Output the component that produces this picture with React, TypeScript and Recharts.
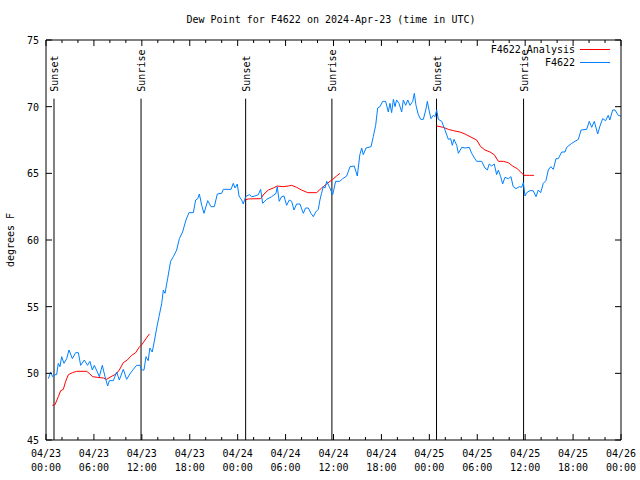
import React from "react";
import {
  LineChart,
  Line,
  XAxis,
  YAxis,
  ReferenceLine,
  Legend,
  Customized,
} from "recharts";

// ---- data ----
const titleText = "Dew Point for F4622 on 2024-Apr-23 (time in UTC)";
const yLabelText = "degrees F";
const seriesNames = ["F4622 Analysis", "F4622"];

// hours since 2024-04-23 00:00 UTC
const dewHours = [
  0.29, 0.58, 0.83, 1.13, 1.33, 1.54, 1.75, 1.96, 2.25, 2.59, 2.88, 3.3, 3.71, 4.05, 4.34, 4.8, 5.2, 5.5, 5.8, 6.05,
  6.43, 6.68, 7.05, 7.39, 7.72, 7.93, 8.43, 8.85, 9.18, 9.68, 10.1, 10.5, 10.93, 11.35, 11.77, 11.98, 12.27, 12.52,
  12.8, 13.0, 13.3, 13.5, 13.86, 14.15, 14.49, 14.69, 14.9, 15.23, 15.6, 15.95, 16.36, 16.7, 17.1, 17.53, 17.9, 18.45,
  18.74, 19.0, 19.2, 19.5, 19.78, 20.25, 20.66, 21.08, 21.45, 22.0, 22.2, 23.17, 23.45, 23.67, 23.95, 24.17, 24.5,
  24.7, 25.0, 25.46, 25.76, 26.17, 26.58, 26.88, 27.13, 27.64, 28.26, 28.8, 28.96, 29.2, 29.5, 29.8, 30.13, 30.47,
  30.76, 31.05, 31.38, 31.8, 32.22, 32.5, 32.85, 33.18, 33.47, 33.77, 34.1, 34.3, 34.5, 34.73, 34.94, 35.15, 35.47,
  35.9, 36.27, 36.8, 37.15, 37.65, 38.07, 38.6, 38.98, 39.3, 39.53, 39.73, 40.07, 40.7, 40.98, 41.28, 41.53, 41.82,
  42.16, 42.53, 42.86, 43.07, 43.28, 43.5, 43.7, 43.9, 44.2, 44.54, 44.74, 45.04, 45.3, 45.58, 45.92, 46.12, 46.33,
  46.62, 46.92, 47.25, 47.55, 47.75, 47.96, 48.2, 48.5, 48.71, 48.92, 49.12, 49.55, 49.96, 50.38, 50.67, 50.88,
  51.09, 51.43, 51.64, 52.06, 52.47, 53.0, 53.3, 53.7, 53.93, 54.55, 54.97, 55.26, 55.5, 55.8, 56.13, 56.43, 56.64,
  56.93, 57.18, 57.47, 57.89, 58.22, 58.5, 58.85, 59.27, 59.56, 59.77, 59.98, 60.19, 60.6, 61.0, 61.36, 61.64, 61.94,
  62.27, 62.6, 62.9, 63.2, 63.53, 63.86, 64.15, 64.57, 64.99, 65.2, 65.83, 66.24, 66.66, 67.0, 67.7, 68.03, 68.33,
  68.66, 69.08, 69.37, 69.7, 70.08, 70.4, 70.6, 70.96, 71.25, 71.66, 71.96,
];
const dewValues = [
  49.6, 50.1, 49.75, 49.9, 49.9, 50.75, 50.5, 51.25, 50.75, 51.1, 51.75, 51.1, 51.55, 51.55, 50.6, 51.0, 50.6, 50.9,
  50.25, 50.6, 50.1, 49.75, 50.6, 49.75, 49.05, 49.45, 49.45, 50.1, 49.5, 50.3, 49.55, 49.95, 50.3, 50.6, 50.6, 50.25,
  50.25, 51.25, 50.95, 51.9, 51.6, 52.2, 53.4, 54.25, 55.25, 56.25, 56.0, 57.1, 58.4, 58.75, 59.25, 60.1, 60.6, 61.5,
  62.05, 62.05, 63.0, 63.1, 63.45, 62.6, 62.0, 62.95, 62.5, 62.5, 63.45, 63.5, 63.8, 63.8, 64.25, 63.9, 64.2, 63.3,
  63.0, 62.7, 63.25, 63.4, 63.25, 63.3, 63.4, 63.8, 62.75, 63.05, 63.25, 63.5, 64.0, 62.9, 63.25, 63.3, 62.6, 63.0,
  62.9, 62.25, 62.7, 62.7, 62.0, 62.4, 62.4, 62.0, 61.75, 62.1, 62.3, 63.0, 63.5, 64.0, 63.9, 64.4, 64.0, 63.4, 64.4,
  64.4, 64.6, 64.8, 65.5, 65.55, 64.8, 66.4, 66.9, 66.4, 66.9, 67.0, 67.75, 68.6, 69.9, 70.0, 70.4, 70.4, 69.6, 70.25,
  69.55, 70.55, 70.0, 70.5, 70.25, 69.6, 70.5, 70.1, 70.5, 70.1, 70.4, 71.0, 70.1, 69.4, 69.05, 69.05, 69.75, 70.4,
  69.75, 69.1, 69.35, 69.25, 69.75, 69.05, 68.9, 68.25, 67.55, 67.6, 67.1, 67.55, 67.1, 66.5, 66.95, 66.9, 66.95,
  66.5, 66.1, 65.9, 65.9, 65.4, 65.25, 65.7, 65.55, 65.7, 64.9, 65.25, 64.75, 64.2, 64.7, 64.6, 64.75, 64.0, 63.85,
  64.0, 63.95, 64.3, 63.3, 63.55, 63.7, 63.7, 63.25, 63.75, 63.55, 64.25, 64.45, 65.25, 65.5, 65.3, 66.1, 66.1, 66.6,
  66.6, 66.95, 67.25, 67.4, 67.55, 68.25, 68.3, 68.9, 68.45, 68.9, 67.95, 68.55, 69.1, 68.95, 69.35, 69.0, 69.75,
  69.75, 69.35, 69.3,
];

// analysis: null marks a gap between runs
const analysisHours = [
  0.79, 1.13, 1.54, 1.84, 2.17, 2.46, 2.8, 3.3, 3.84, 5.1, 5.5, 5.84, 6.43, 7.18, 7.6, 8.14, 8.77, 9.18, 9.68, 10.18,
  10.73, 11.23, 11.65, 12.06, 12.52, 12.94, 18,
  24.92, 25.33, 26.88, 27.3, 27.84, 28.46, 28.96, 29.72, 30.34, 30.76, 31.38, 32.0, 32.77, 33.89, 34.51, 35.23, 35.9,
  36.39, 36.8, 42,
  48.92, 49.75, 50.38, 51.0, 51.84, 52.47, 53.1, 53.93, 54.43, 54.97, 55.6, 56.13, 56.64, 57.26, 57.89, 58.43, 59.0,
  59.44, 59.85, 60.52, 61.1,
];
const analysisValues: (number | null)[] = [
  47.6, 47.65, 48.25, 48.7, 48.8, 49.4, 49.9, 50.05, 50.15, 50.15, 49.95, 49.75, 49.7, 49.65, 49.55, 49.75, 49.95,
  50.25, 50.8, 51.0, 51.35, 51.55, 51.95, 52.2, 52.6, 52.95, null,
  63.0, 63.08, 63.1, 63.45, 63.75, 63.9, 64.05, 64.0, 64.05, 64.1, 63.95, 63.75, 63.55, 63.55, 63.9, 64.25, 64.55,
  64.8, 65.0, null,
  68.55, 68.45, 68.3, 68.2, 68.1, 67.95, 67.75, 67.5, 67.0, 66.75, 66.6, 66.4, 65.9, 65.9, 65.8, 65.55, 65.35, 65.1,
  64.85, 64.85, 64.85,
];

const sunHours = [1.0, 11.9, 25.0, 35.8, 48.9, 59.8];
const sunLabels = ["Sunset", "Sunrise", "Sunset", "Sunrise", "Sunset", "Sunrise"];

const xTicks = [0, 2, 4, 6, 8, 10, 12, 14, 16, 18, 20, 22, 24, 26, 28, 30, 32, 34, 36, 38, 40, 42, 44, 46, 48, 50, 52, 54, 56, 58, 60, 62, 64, 66, 68, 70, 72];
const xMajorHours = [0, 6, 12, 18, 24, 30, 36, 42, 48, 54, 60, 66, 72];
const xTickDates = ["04/23", "04/23", "04/23", "04/23", "04/24", "04/24", "04/24", "04/24", "04/25", "04/25", "04/25", "04/25", "04/26"];
const xTickTimes = ["00:00", "06:00", "12:00", "18:00", "00:00", "06:00", "12:00", "18:00", "00:00", "06:00", "12:00", "18:00", "00:00"];
const yTicks = [45, 50, 55, 60, 65, 70, 75];

const dewData = dewHours.map((h, i) => ({ h, v: dewValues[i] }));
const analysisData = analysisHours.map((h, i) => ({ h, v: analysisValues[i] }));

// ---- styles ----
const FONT = "'DejaVu Sans Mono', 'Liberation Mono', monospace";
const FS = 10;
const RED = "#ff0000";
const BLUE = "#0080ff";
const seriesColors = [RED, BLUE];

const BottomTick = (props: any) => {
  const { x, y, payload } = props;
  const idx = xMajorHours.indexOf(payload.value);
  const major = idx >= 0;
  return (
    <g>
      <line x1={x} y1={y} x2={x} y2={y - (major ? 6 : 3)} stroke="#000" strokeWidth={1} />
      {major && (
        <text x={x} y={y + 17} textAnchor="middle" fontFamily={FONT} fontSize={FS} fill="#000">
          {xTickDates[idx]}
        </text>
      )}
      {major && (
        <text x={x} y={y + 31} textAnchor="middle" fontFamily={FONT} fontSize={FS} fill="#000">
          {xTickTimes[idx]}
        </text>
      )}
    </g>
  );
};

const TopTick = (props: any) => {
  const { x, y, payload } = props;
  const major = xMajorHours.indexOf(payload.value) >= 0;
  return <line x1={x} y1={y} x2={x} y2={y + (major ? 6 : 3)} stroke="#000" strokeWidth={1} />;
};

const LeftTick = (props: any) => {
  const { x, y, payload } = props;
  return (
    <g>
      <line x1={x} y1={y} x2={x + 6} y2={y} stroke="#000" strokeWidth={1} />
      <text x={x - 7} y={y + 4} textAnchor="end" fontFamily={FONT} fontSize={FS} fill="#000">
        {payload.value}
      </text>
    </g>
  );
};

const RightTick = (props: any) => {
  const { x, y } = props;
  return <line x1={x} y1={y} x2={x - 6} y2={y} stroke="#000" strokeWidth={1} />;
};

const SunLabel = (text: string) => (props: any) => {
  const vb = props.viewBox || {};
  const x = vb.x ?? 0;
  const y = vb.y ?? 0;
  const tx = x + 4;
  const ty = y - 7;
  return (
    <text
      x={tx}
      y={ty}
      transform={`rotate(-90 ${tx} ${ty})`}
      textAnchor="start"
      fontFamily={FONT}
      fontSize={FS}
      fill="#000"
    >
      {text}
    </text>
  );
};

const Titles = () => (
  <g>
    <text x={331} y={23} textAnchor="middle" fontFamily={FONT} fontSize={FS} fill="#000">
      {titleText}
    </text>
    <text
      x={14}
      y={240}
      transform="rotate(-90 14 240)"
      textAnchor="middle"
      fontFamily={FONT}
      fontSize={FS}
      fill="#000"
    >
      {yLabelText}
    </text>
  </g>
);

const LegendContent = () => (
  <svg width={170} height={30} style={{ display: "block" }}>
    {seriesNames.map((n, i) => (
      <g key={n}>
        <text x={115} y={13 + i * 13} textAnchor="end" fontFamily={FONT} fontSize={FS} fill="#000">
          {n}
        </text>
        <line x1={120} y1={9.5 + i * 13} x2={150} y2={9.5 + i * 13} stroke={seriesColors[i]} strokeWidth={1} />
      </g>
    ))}
  </svg>
);

export default function App() {
  return (
    <div style={{ position: "absolute", left: 0, top: 0, width: 640, height: 480, background: "#fff" }}>
      <LineChart width={640} height={480} margin={{ top: 39, right: 18, bottom: 39, left: 45 }}>
        <XAxis
          xAxisId="b"
          type="number"
          dataKey="h"
          domain={[0, 72]}
          ticks={xTicks}
          interval={0}
          allowDataOverflow
          height={1}
          tickSize={0}
          tickMargin={0}
          tickLine={false}
          axisLine={{ stroke: "#000" }}
          tick={<BottomTick />}
        />
        <XAxis
          xAxisId="t"
          orientation="top"
          type="number"
          dataKey="h"
          domain={[0, 72]}
          ticks={xTicks}
          interval={0}
          allowDataOverflow
          height={1}
          tickSize={0}
          tickMargin={0}
          tickLine={false}
          axisLine={{ stroke: "#000" }}
          tick={<TopTick />}
        />
        <YAxis
          yAxisId="l"
          type="number"
          domain={[45, 75]}
          ticks={yTicks}
          interval={0}
          allowDataOverflow
          width={1}
          tickSize={0}
          tickMargin={0}
          tickLine={false}
          axisLine={{ stroke: "#000" }}
          tick={<LeftTick />}
        />
        <YAxis
          yAxisId="r"
          orientation="right"
          type="number"
          domain={[45, 75]}
          ticks={yTicks}
          interval={0}
          allowDataOverflow
          width={1}
          tickSize={0}
          tickMargin={0}
          tickLine={false}
          axisLine={{ stroke: "#000" }}
          tick={<RightTick />}
        />
        {sunHours.map((h, i) => (
          <ReferenceLine
            key={`sun-${i}`}
            xAxisId="b"
            yAxisId="l"
            segment={[
              { x: h, y: 70.6 },
              { x: h, y: 45 },
            ]}
            stroke="#000"
            strokeWidth={1}
            label={SunLabel(sunLabels[i])}
          />
        ))}
        <Line
          xAxisId="b"
          yAxisId="l"
          data={analysisData}
          dataKey="v"
          name={seriesNames[0]}
          type="linear"
          stroke={RED}
          strokeWidth={1}
          dot={false}
          connectNulls={false}
          isAnimationActive={false}
        />
        <Line
          xAxisId="b"
          yAxisId="l"
          data={dewData}
          dataKey="v"
          name={seriesNames[1]}
          type="linear"
          stroke={BLUE}
          strokeWidth={1}
          dot={false}
          isAnimationActive={false}
        />
        <Legend
          layout="vertical"
          align="center"
          verticalAlign="middle"
          wrapperStyle={{ position: "absolute", left: 460, top: 40, width: 170, height: 30 }}
          content={<LegendContent />}
        />
        <Customized component={<Titles />} />
      </LineChart>
    </div>
  );
}
